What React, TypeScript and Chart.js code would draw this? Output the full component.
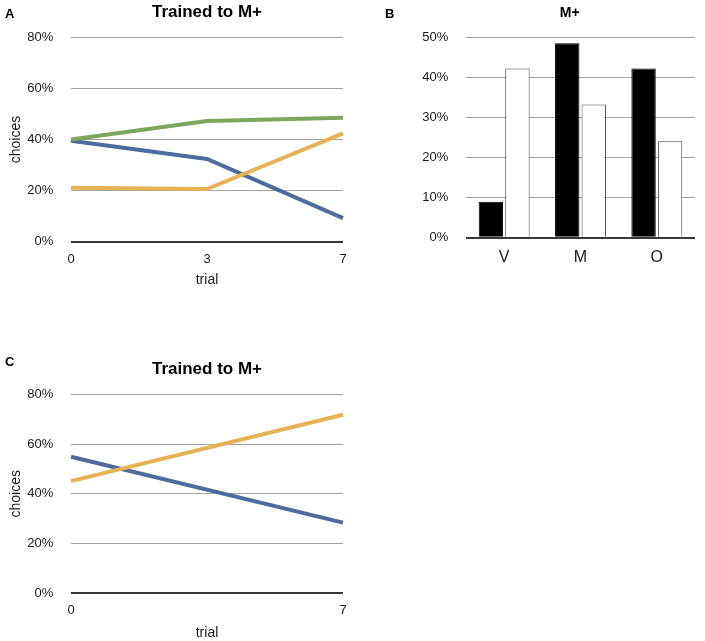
import React, { useEffect, useRef } from "react";
import { Chart, registerables } from "chart.js";

Chart.register(...registerables);

// ---- Data ----
const trialsA = ["0", "3", "7"];
const greenA = [40.0, 47.2, 48.5];
const orangeA = [21.1, 20.6, 42.4];
const blueA = [39.5, 32.4, 9.2];

const catsB = ["V", "M", "O"];
const blackB = [9.0, 48.6, 42.3];
const whiteB = [42.3, 33.3, 24.1];

const trialsC = ["0", "7"];
const orangeC = [45.1, 71.8];
const blueC = [54.9, 28.4];

const FONT = "'Liberation Sans', Arial, Helvetica, sans-serif";
const TEXT = "#1a1a1a";
const GRID = "#a3a3a3";
const ZERO = "#383838";
const GREEN = "#7da55b";
const BLUE = "#4e6b9d";
const ORANGE = "#e5b255";

function gridOpts() {
  return {
    color: (c: any) => (c.tick && c.tick.value === 0 ? ZERO : GRID),
    lineWidth: (c: any) => (c.tick && c.tick.value === 0 ? 2 : 1),
    drawTicks: false,
  };
}

function lineConfig(
  labels: string[],
  datasets: any[],
  o: { titleTop: number; titleBottom: number; xTickPad: number; xHeight: number; xTitlePad: number }
): any {
  return {
    type: "line",
    data: { labels, datasets },
    options: {
      responsive: false,
      animation: false,
      devicePixelRatio: 1,
      layout: { padding: { left: 0, right: 17, top: 0, bottom: 0 } },
      plugins: {
        legend: { display: false },
        tooltip: { enabled: false },
        title: {
          display: true,
          text: "Trained to M+",
          fullSize: false,
          color: "#000",
          font: { family: FONT, size: 17, weight: "bold", lineHeight: 1.2 },
          padding: { top: o.titleTop, bottom: o.titleBottom },
        },
      },
      elements: { point: { radius: 0 }, line: { tension: 0, borderWidth: 4 } },
      scales: {
        x: {
          type: "category",
          offset: false,
          grid: { display: false, drawTicks: false },
          border: { display: false },
          ticks: {
            autoSkip: false,
            maxRotation: 0,
            padding: o.xTickPad,
            color: TEXT,
            font: { family: FONT, size: 13 },
          },
          title: {
            display: true,
            text: "trial",
            color: TEXT,
            font: { family: FONT, size: 14 },
            padding: { top: 0, bottom: o.xTitlePad },
          },
          afterFit: (s: any) => {
            s.height = o.xHeight;
          },
        },
        y: {
          min: 0,
          max: 80,
          grid: gridOpts(),
          border: { display: false },
          ticks: {
            stepSize: 20,
            padding: 17.7,
            color: TEXT,
            font: { family: FONT, size: 13 },
            callback: (v: any) => v + "%",
          },
          title: {
            display: true,
            text: "choices",
            color: TEXT,
            font: { family: FONT, size: 14 },
            padding: { top: 8, bottom: 0 },
          },
          afterFit: (s: any) => {
            s.width = 71;
          },
        },
      },
    },
  };
}

function useChart(ref: React.RefObject<HTMLCanvasElement | null>, make: () => any) {
  useEffect(() => {
    if (!ref.current) return;
    const ch = new Chart(ref.current, make());
    return () => ch.destroy();
  }, []);
}

function lineDs(data: number[], color: string) {
  return {
    data,
    borderColor: color,
    backgroundColor: color,
    borderWidth: 4,
    pointRadius: 0,
    fill: false,
    tension: 0,
  };
}

// Title for panel B: sits a little left of the plot-area centre, as in the source figure
const titleBPlugin = {
  id: "titleB",
  afterDraw(chart: any) {
    const { ctx, chartArea } = chart;
    ctx.save();
    ctx.font = `bold 14px ${FONT}`;
    ctx.fillStyle = "#000";
    ctx.textAlign = "center";
    ctx.textBaseline = "middle";
    ctx.fillText("M+", chartArea.left + 0.453 * (chartArea.right - chartArea.left), 13.3);
    ctx.restore();
  },
};

export default function App() {
  const refA = useRef<HTMLCanvasElement>(null);
  const refB = useRef<HTMLCanvasElement>(null);
  const refC = useRef<HTMLCanvasElement>(null);

  useChart(refA, () =>
    lineConfig(
      trialsA,
      [lineDs(greenA, GREEN), lineDs(orangeA, ORANGE), lineDs(blueA, BLUE)],
      { titleTop: 2.5, titleBottom: 14.4, xTickPad: 10, xHeight: 58.3, xTitlePad: 11 }
    )
  );

  useChart(refC, () =>
    lineConfig(
      trialsC,
      [lineDs(orangeC, ORANGE), lineDs(blueC, BLUE)],
      { titleTop: 39.5, titleBottom: 14.4, xTickPad: 9, xHeight: 49.7, xTitlePad: 1 }
    )
  );

  useChart(refB, () => ({
    type: "bar",
    data: {
      labels: catsB,
      datasets: [
        {
          data: blackB,
          backgroundColor: "#000",
          borderColor: "#000",
          borderWidth: 1,
          categoryPercentage: 0.695,
          barPercentage: 0.92,
        },
        {
          data: whiteB,
          backgroundColor: "#fff",
          borderColor: "#4a4a4a",
          borderWidth: 1,
          categoryPercentage: 0.695,
          barPercentage: 0.92,
        },
      ],
    },
    plugins: [titleBPlugin],
    options: {
      responsive: false,
      animation: false,
      devicePixelRatio: 1,
      layout: { padding: { left: 0, right: 10, top: 37.7, bottom: 0 } },
      plugins: {
        legend: { display: false },
        tooltip: { enabled: false },
        title: { display: false },
      },
      scales: {
        x: {
          grid: { display: false, drawTicks: false },
          border: { display: false },
          ticks: {
            padding: 10.4,
            color: TEXT,
            font: { family: FONT, size: 16 },
          },
          afterFit: (s: any) => {
            s.height = 42.3;
          },
        },
        y: {
          min: 0,
          max: 50,
          grid: gridOpts(),
          border: { display: false },
          ticks: {
            stepSize: 10,
            padding: 17.7,
            color: TEXT,
            font: { family: FONT, size: 13 },
            callback: (v: any) => v + "%",
          },
          afterFit: (s: any) => {
            s.width = 86;
          },
        },
      },
    },
  }));

  const letter: React.CSSProperties = {
    position: "absolute",
    fontFamily: FONT,
    fontWeight: "bold",
    fontSize: 13,
    lineHeight: "13px",
    color: "#000",
  };

  return (
    <div
      style={{
        position: "absolute",
        left: 0,
        top: 0,
        width: 705,
        height: 641,
        overflow: "hidden",
        background: "#fff",
      }}
    >
      <canvas ref={refA} width={360} height={300} style={{ position: "absolute", left: 0, top: 0 }} />
      <canvas ref={refB} width={325} height={280} style={{ position: "absolute", left: 380, top: 0 }} />
      <canvas ref={refC} width={360} height={323} style={{ position: "absolute", left: 0, top: 320 }} />
      <div style={{ ...letter, left: 5, top: 6.5 }}>A</div>
      <div style={{ ...letter, left: 385, top: 6.5 }}>B</div>
      <div style={{ ...letter, left: 5, top: 355 }}>C</div>
    </div>
  );
}
